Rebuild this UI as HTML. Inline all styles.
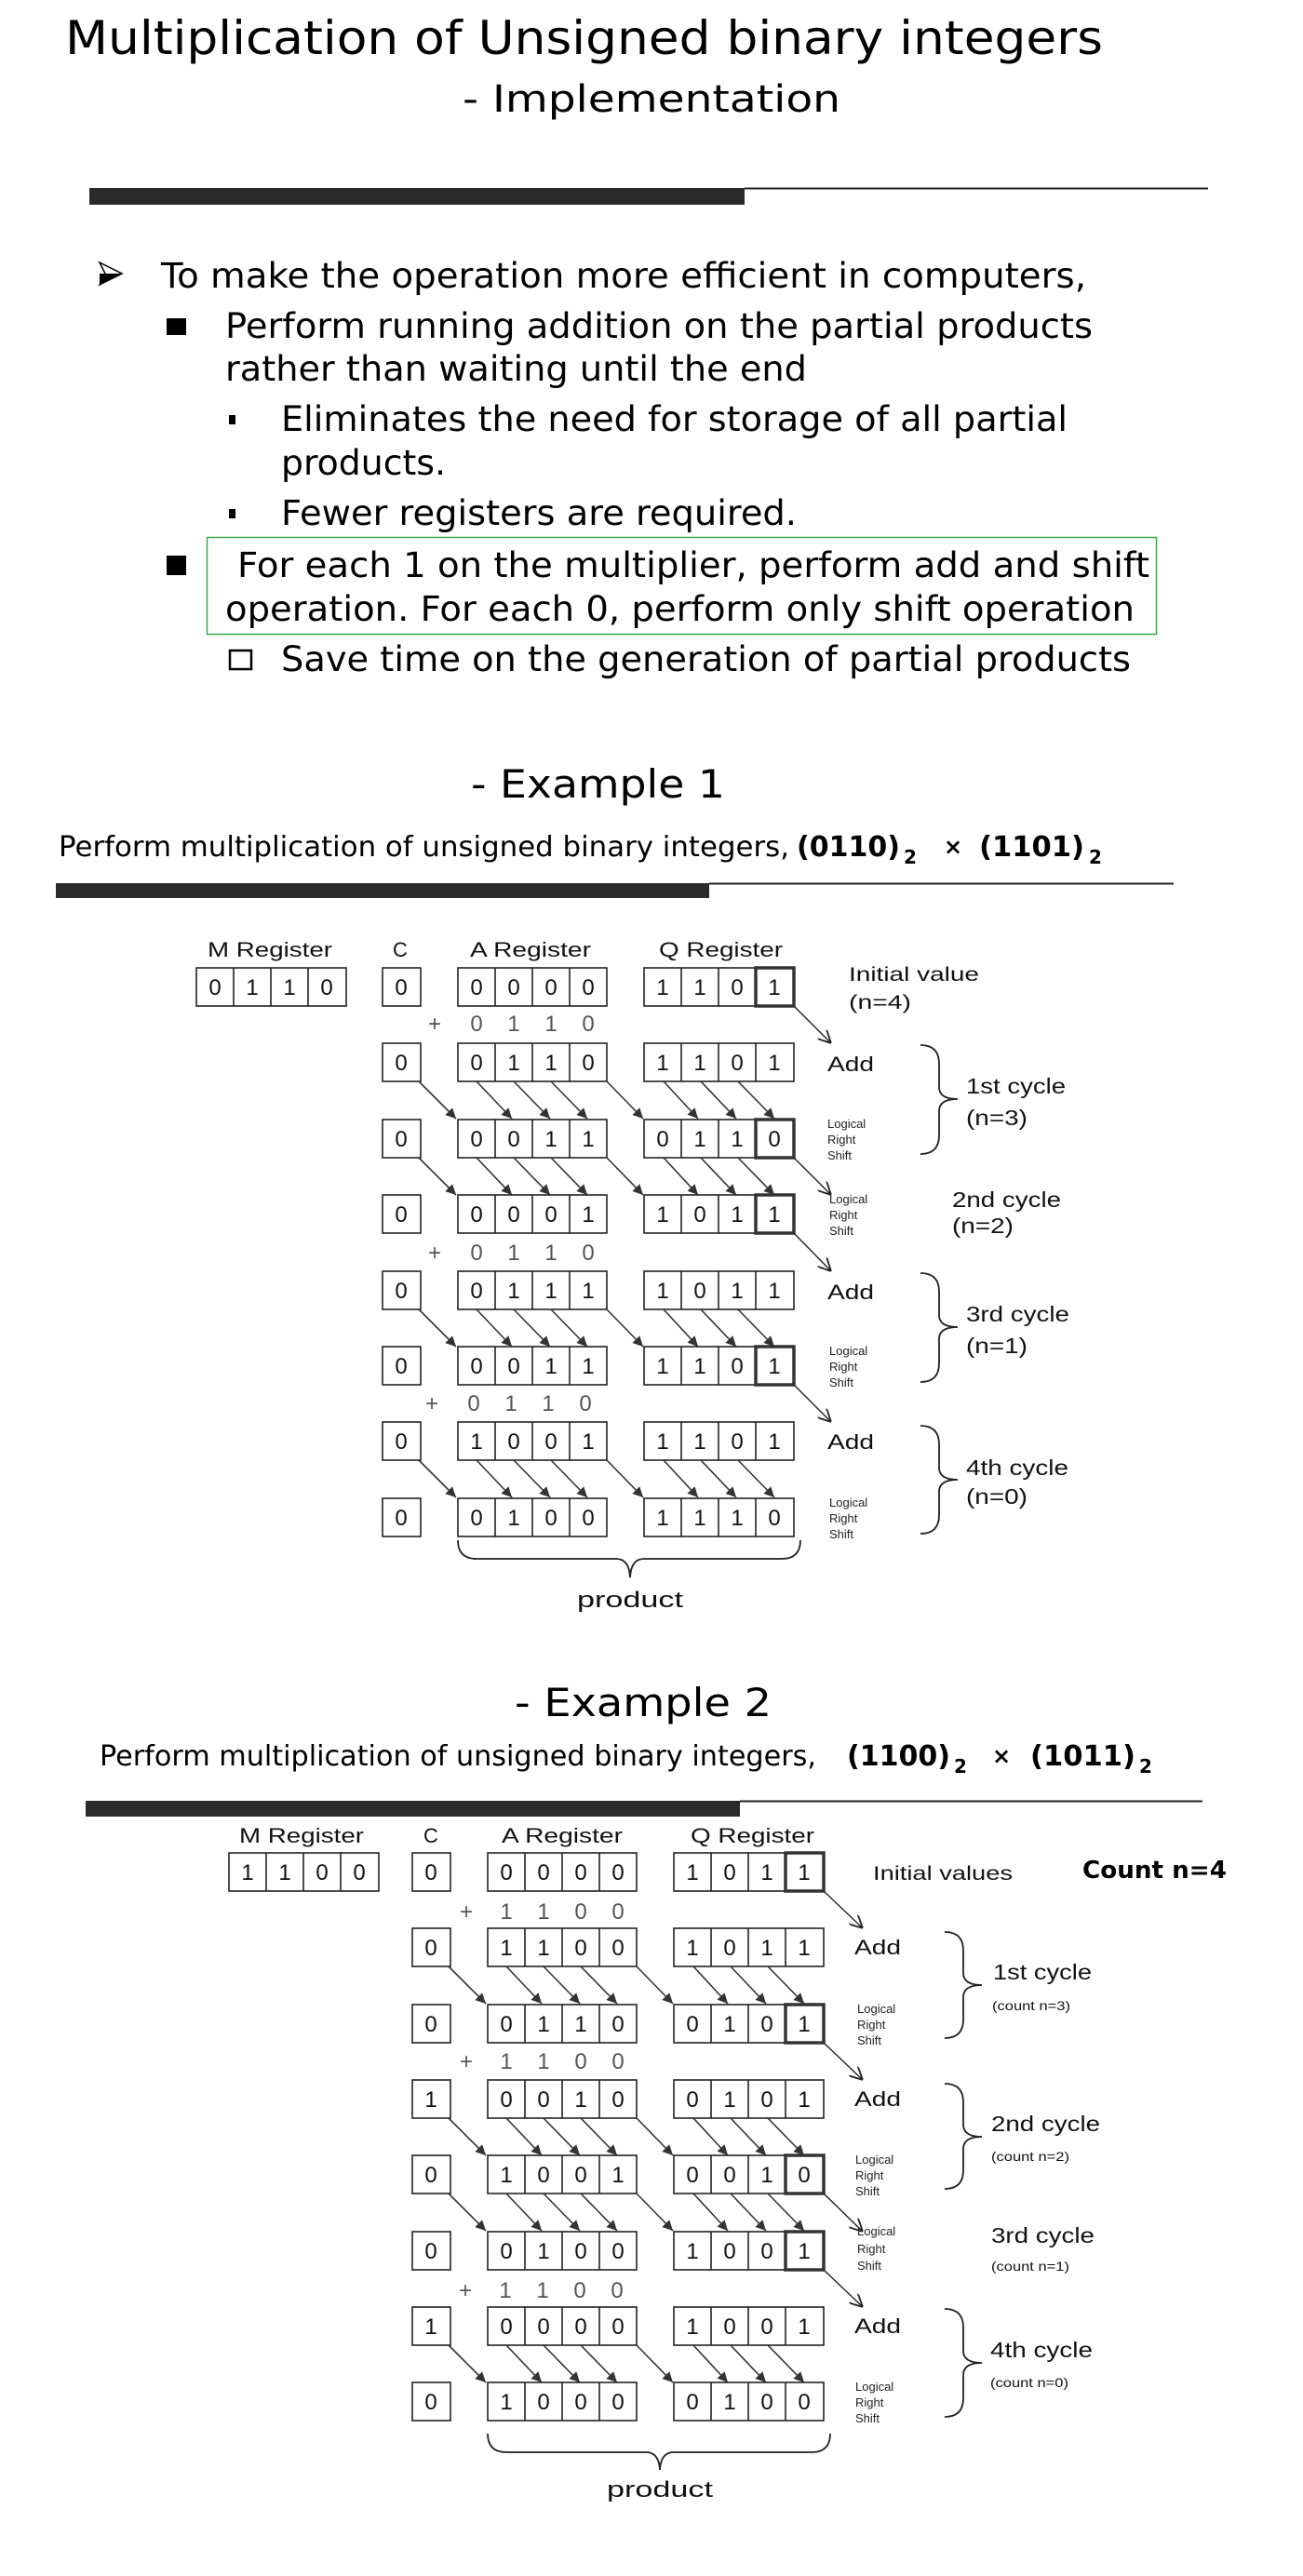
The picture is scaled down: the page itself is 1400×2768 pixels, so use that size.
<!DOCTYPE html>
<html><head><meta charset="utf-8"><style>
body{margin:0;background:#fff}
svg{display:block}
.v{font-family:"DejaVu Sans","Liberation Sans",sans-serif;fill:#000}
.a{font-family:"Liberation Sans",Arial,sans-serif;fill:#111}
.d{font-family:"Liberation Sans",Arial,sans-serif;font-size:24px;fill:#111;text-anchor:middle}
.p{font-family:"Liberation Sans",Arial,sans-serif;font-size:24px;fill:#555;text-anchor:middle}
.s{font-family:"Liberation Sans",Arial,sans-serif;font-size:13px;fill:#222}
</style></head><body>
<svg width="1400" height="2768" viewBox="0 0 1400 2768" xmlns="http://www.w3.org/2000/svg">
<defs>
<marker id="fa" viewBox="0 0 10 10" refX="10" refY="5" markerWidth="13" markerHeight="11" markerUnits="userSpaceOnUse" orient="auto"><path d="M0,0 L10,5 L0,10 z" fill="#333"/></marker>
<marker id="oa" viewBox="0 0 10 10" refX="10" refY="5" markerWidth="14" markerHeight="14" markerUnits="userSpaceOnUse" orient="auto"><path d="M0,0 L10,5 L0,10" fill="none" stroke="#222" stroke-width="1.3"/></marker>
<g id="regs" fill="none" stroke="#222" stroke-width="1.6">
<rect x="411" y="0" width="41" height="41"/>
<rect x="492" y="0" width="160" height="41"/><path d="M532 0v41M572 0v41M612 0v41"/>
<rect x="692" y="0" width="161" height="41"/><path d="M732 0v41M772 0v41M812 0v41"/>
</g>
<rect id="thk" x="812" y="0" width="41" height="41" fill="none" stroke="#333" stroke-width="3.5"/>
<g id="sh" stroke="#333" stroke-width="1.6" marker-end="url(#fa)">
<line x1="450" y1="41" x2="490" y2="81"/><line x1="512" y1="41" x2="550" y2="81"/>
<line x1="552" y1="41" x2="591" y2="81"/><line x1="592" y1="41" x2="631" y2="81"/>
<line x1="652" y1="41" x2="691" y2="81"/><line x1="713" y1="41" x2="750" y2="81"/>
<line x1="753" y1="41" x2="791" y2="81"/><line x1="793" y1="41" x2="832" y2="81"/>
</g>
</defs>
<rect width="1400" height="2768" fill="#fff"/>

<!-- Header -->
<text class="v" x="70" y="58" font-size="50" textLength="1115" lengthAdjust="spacingAndGlyphs">Multiplication of Unsigned binary integers</text>
<text class="v" x="497" y="120" font-size="40" textLength="406" lengthAdjust="spacingAndGlyphs">- Implementation</text>
<rect x="96" y="202" width="704" height="18" fill="#2a2a2a"/>
<line x1="800" y1="202.5" x2="1298" y2="202.5" stroke="#222" stroke-width="2"/>

<path d="M107 282 L131 294 L107 306 L113 294 Z" fill="#fff" stroke="#000" stroke-width="1.5"/>
<path d="M107 294 L131 294 L107 306 Z" fill="#000"/>
<text class="v" x="173" y="309" font-size="37" textLength="994" lengthAdjust="spacingAndGlyphs">To make the operation more efficient in computers,</text>
<rect x="179" y="342" width="21" height="18" fill="#000"/>
<text class="v" x="242" y="363" font-size="37" textLength="932" lengthAdjust="spacingAndGlyphs">Perform running addition on the partial products</text>
<text class="v" x="242" y="409" font-size="37" textLength="625" lengthAdjust="spacingAndGlyphs">rather than waiting until the end</text>
<rect x="246" y="446" width="7" height="10" fill="#000"/>
<text class="v" x="302" y="463" font-size="37" textLength="845" lengthAdjust="spacingAndGlyphs">Eliminates the need for storage of all partial</text>
<text class="v" x="302" y="510" font-size="37" textLength="177" lengthAdjust="spacingAndGlyphs">products.</text>
<rect x="246" y="547" width="7" height="10" fill="#000"/>
<text class="v" x="302" y="564" font-size="37" textLength="554" lengthAdjust="spacingAndGlyphs">Fewer registers are required.</text>
<rect x="222.5" y="577.5" width="1020" height="104" fill="none" stroke="#3aaa4a" stroke-width="1.5"/>
<rect x="179" y="597" width="21" height="21" fill="#000"/>
<text class="v" x="255" y="620" font-size="37" textLength="980" lengthAdjust="spacingAndGlyphs">For each 1 on the multiplier, perform add and shift</text>
<text class="v" x="242" y="667" font-size="37" textLength="977" lengthAdjust="spacingAndGlyphs">operation. For each 0, perform only shift operation</text>
<rect x="247" y="699" width="23" height="20" fill="none" stroke="#000" stroke-width="2.5"/>
<text class="v" x="302" y="721" font-size="37" textLength="913" lengthAdjust="spacingAndGlyphs">Save time on the generation of partial products</text>

<!-- Example 1 -->
<text class="v" x="506" y="857" font-size="42" textLength="273" lengthAdjust="spacingAndGlyphs">- Example 1</text>
<text class="v" x="63" y="920" font-size="30" textLength="785" lengthAdjust="spacingAndGlyphs">Perform multiplication of unsigned binary integers,</text>
<text class="v" x="856" y="920" font-size="30" font-weight="bold" textLength="111" lengthAdjust="spacingAndGlyphs">(0110)</text>
<text class="v" x="971" y="928" font-size="20" font-weight="bold">2</text>
<text class="v" x="1014" y="918" font-size="24" font-weight="bold">×</text>
<text class="v" x="1052" y="920" font-size="30" font-weight="bold" textLength="113" lengthAdjust="spacingAndGlyphs">(1101)</text>
<text class="v" x="1170" y="928" font-size="20" font-weight="bold">2</text>
<rect x="60" y="949" width="702" height="16" fill="#2a2a2a"/>
<line x1="762" y1="949.5" x2="1261" y2="949.5" stroke="#222" stroke-width="2"/>

<g>
<text class="a" x="223" y="1028" font-size="22" textLength="134" lengthAdjust="spacingAndGlyphs">M Register</text>
<text class="a" x="430" y="1028" font-size="22" text-anchor="middle">C</text>
<text class="a" x="505" y="1028" font-size="22" textLength="130" lengthAdjust="spacingAndGlyphs">A Register</text>
<text class="a" x="708" y="1028" font-size="22" textLength="133" lengthAdjust="spacingAndGlyphs">Q Register</text>
<g transform="translate(0,1040)">
<rect x="211" y="0" width="161" height="41" fill="none" stroke="#222" stroke-width="1.6"/><path d="M251 0v41M291 0v41M331 0v41" stroke="#222" stroke-width="1.6"/>
<text class="d" x="231" y="29">0</text><text class="d" x="271" y="29">1</text><text class="d" x="311" y="29">1</text><text class="d" x="351" y="29">0</text>
<use href="#regs"/><use href="#thk"/>
<text class="d" x="431" y="29">0</text><text class="d" x="512" y="29">0</text><text class="d" x="552" y="29">0</text><text class="d" x="592" y="29">0</text><text class="d" x="632" y="29">0</text>
<text class="d" x="712" y="29">1</text><text class="d" x="752" y="29">1</text><text class="d" x="792" y="29">0</text><text class="d" x="832" y="29">1</text>
</g>
<g><text class="p" x="467" y="1108">+</text><text class="p" x="512" y="1108">0</text><text class="p" x="552" y="1108">1</text><text class="p" x="592" y="1108">1</text><text class="p" x="632" y="1108">0</text></g>
<g transform="translate(0,1121)"><use href="#regs"/><use href="#sh"/>
<text class="d" x="431" y="29">0</text><text class="d" x="512" y="29">0</text><text class="d" x="552" y="29">1</text><text class="d" x="592" y="29">1</text><text class="d" x="632" y="29">0</text>
<text class="d" x="712" y="29">1</text><text class="d" x="752" y="29">1</text><text class="d" x="792" y="29">0</text><text class="d" x="832" y="29">1</text></g>
<g transform="translate(0,1203)"><use href="#regs"/><use href="#thk"/><use href="#sh"/>
<text class="d" x="431" y="29">0</text><text class="d" x="512" y="29">0</text><text class="d" x="552" y="29">0</text><text class="d" x="592" y="29">1</text><text class="d" x="632" y="29">1</text>
<text class="d" x="712" y="29">0</text><text class="d" x="752" y="29">1</text><text class="d" x="792" y="29">1</text><text class="d" x="832" y="29">0</text></g>
<g transform="translate(0,1284)"><use href="#regs"/><use href="#thk"/>
<text class="d" x="431" y="29">0</text><text class="d" x="512" y="29">0</text><text class="d" x="552" y="29">0</text><text class="d" x="592" y="29">0</text><text class="d" x="632" y="29">1</text>
<text class="d" x="712" y="29">1</text><text class="d" x="752" y="29">0</text><text class="d" x="792" y="29">1</text><text class="d" x="832" y="29">1</text></g>
<g><text class="p" x="467" y="1354">+</text><text class="p" x="512" y="1354">0</text><text class="p" x="552" y="1354">1</text><text class="p" x="592" y="1354">1</text><text class="p" x="632" y="1354">0</text></g>
<g transform="translate(0,1366)"><use href="#regs"/><use href="#sh"/>
<text class="d" x="431" y="29">0</text><text class="d" x="512" y="29">0</text><text class="d" x="552" y="29">1</text><text class="d" x="592" y="29">1</text><text class="d" x="632" y="29">1</text>
<text class="d" x="712" y="29">1</text><text class="d" x="752" y="29">0</text><text class="d" x="792" y="29">1</text><text class="d" x="832" y="29">1</text></g>
<g transform="translate(0,1447)"><use href="#regs"/><use href="#thk"/>
<text class="d" x="431" y="29">0</text><text class="d" x="512" y="29">0</text><text class="d" x="552" y="29">0</text><text class="d" x="592" y="29">1</text><text class="d" x="632" y="29">1</text>
<text class="d" x="712" y="29">1</text><text class="d" x="752" y="29">1</text><text class="d" x="792" y="29">0</text><text class="d" x="832" y="29">1</text></g>
<g><text class="p" x="464" y="1516">+</text><text class="p" x="509" y="1516">0</text><text class="p" x="549" y="1516">1</text><text class="p" x="589" y="1516">1</text><text class="p" x="629" y="1516">0</text></g>
<g transform="translate(0,1528)"><use href="#regs"/><use href="#sh"/>
<text class="d" x="431" y="29">0</text><text class="d" x="512" y="29">1</text><text class="d" x="552" y="29">0</text><text class="d" x="592" y="29">0</text><text class="d" x="632" y="29">1</text>
<text class="d" x="712" y="29">1</text><text class="d" x="752" y="29">1</text><text class="d" x="792" y="29">0</text><text class="d" x="832" y="29">1</text></g>
<g transform="translate(0,1610)"><use href="#regs"/>
<text class="d" x="431" y="29">0</text><text class="d" x="512" y="29">0</text><text class="d" x="552" y="29">1</text><text class="d" x="592" y="29">0</text><text class="d" x="632" y="29">0</text>
<text class="d" x="712" y="29">1</text><text class="d" x="752" y="29">1</text><text class="d" x="792" y="29">1</text><text class="d" x="832" y="29">0</text></g>

<g stroke="#222" stroke-width="1.4" marker-end="url(#oa)">
<line x1="853" y1="1081" x2="893" y2="1121"/>
<line x1="853" y1="1244" x2="893" y2="1284"/>
<line x1="853" y1="1325" x2="893" y2="1366"/>
<line x1="853" y1="1488" x2="893" y2="1528"/>
</g>
<text class="a" x="912" y="1054" font-size="21" textLength="140" lengthAdjust="spacingAndGlyphs">Initial value</text>
<text class="a" x="912" y="1084" font-size="21" textLength="67" lengthAdjust="spacingAndGlyphs">(n=4)</text>
<text class="a" x="889" y="1151" font-size="22" textLength="50" lengthAdjust="spacingAndGlyphs">Add</text>
<text class="a" x="889" y="1396" font-size="22" textLength="50" lengthAdjust="spacingAndGlyphs">Add</text>
<text class="a" x="889" y="1557" font-size="22" textLength="50" lengthAdjust="spacingAndGlyphs">Add</text>
<g class="s">
<text class="s" x="889" y="1212">Logical</text><text class="s" x="889" y="1229">Right</text><text class="s" x="889" y="1246">Shift</text>
<text class="s" x="891" y="1293">Logical</text><text class="s" x="891" y="1310">Right</text><text class="s" x="891" y="1327">Shift</text>
<text class="s" x="891" y="1456">Logical</text><text class="s" x="891" y="1473">Right</text><text class="s" x="891" y="1490">Shift</text>
<text class="s" x="891" y="1619">Logical</text><text class="s" x="891" y="1636">Right</text><text class="s" x="891" y="1653">Shift</text>
</g>
<g fill="none" stroke="#222" stroke-width="1.8">
<path d="M989 1123 Q1009 1123 1009 1143 L1009 1168 Q1009 1181 1029 1181 Q1009 1181 1009 1194 L1009 1220 Q1009 1240 989 1240"/>
<path d="M989 1368 Q1009 1368 1009 1388 L1009 1413 Q1009 1426 1029 1426 Q1009 1426 1009 1439 L1009 1465 Q1009 1485 989 1485"/>
<path d="M989 1532 Q1009 1532 1009 1552 L1009 1577 Q1009 1590 1029 1590 Q1009 1590 1009 1603 L1009 1628 Q1009 1648 989 1648"/>
<path d="M492 1655 Q492 1675 512 1675 L662 1675 Q676 1675 677 1695 Q678 1675 692 1675 L840 1675 Q860 1675 860 1655"/>
</g>
<text class="a" x="1038" y="1175" font-size="23" textLength="107" lengthAdjust="spacingAndGlyphs">1st cycle</text>
<text class="a" x="1038" y="1209" font-size="23" textLength="66" lengthAdjust="spacingAndGlyphs">(n=3)</text>
<text class="a" x="1023" y="1297" font-size="23" textLength="117" lengthAdjust="spacingAndGlyphs">2nd cycle</text>
<text class="a" x="1023" y="1325" font-size="23" textLength="66" lengthAdjust="spacingAndGlyphs">(n=2)</text>
<text class="a" x="1038" y="1420" font-size="23" textLength="111" lengthAdjust="spacingAndGlyphs">3rd cycle</text>
<text class="a" x="1038" y="1454" font-size="23" textLength="66" lengthAdjust="spacingAndGlyphs">(n=1)</text>
<text class="a" x="1038" y="1585" font-size="23" textLength="110" lengthAdjust="spacingAndGlyphs">4th cycle</text>
<text class="a" x="1038" y="1616" font-size="23" textLength="66" lengthAdjust="spacingAndGlyphs">(n=0)</text>
<text class="a" x="677" y="1727" font-size="24" text-anchor="middle" textLength="114" lengthAdjust="spacingAndGlyphs">product</text>
</g>

<!-- Example 2 -->
<text class="v" x="553" y="1844" font-size="42" textLength="276" lengthAdjust="spacingAndGlyphs">- Example 2</text>
<text class="v" x="107" y="1897" font-size="30" textLength="770" lengthAdjust="spacingAndGlyphs">Perform multiplication of unsigned binary integers,</text>
<text class="v" x="910" y="1897" font-size="30" font-weight="bold" textLength="111" lengthAdjust="spacingAndGlyphs">(1100)</text>
<text class="v" x="1025" y="1905" font-size="20" font-weight="bold">2</text>
<text class="v" x="1066" y="1895" font-size="24" font-weight="bold">×</text>
<text class="v" x="1107" y="1897" font-size="30" font-weight="bold" textLength="113" lengthAdjust="spacingAndGlyphs">(1011)</text>
<text class="v" x="1224" y="1905" font-size="20" font-weight="bold">2</text>
<rect x="92" y="1935" width="703" height="17" fill="#2a2a2a"/>
<line x1="795" y1="1935.5" x2="1292" y2="1935.5" stroke="#222" stroke-width="2"/>

<g transform="translate(32,0)">
<text class="a" x="225" y="1980" font-size="22" textLength="134" lengthAdjust="spacingAndGlyphs">M Register</text>
<text class="a" x="431" y="1980" font-size="22" text-anchor="middle">C</text>
<text class="a" x="507" y="1980" font-size="22" textLength="130" lengthAdjust="spacingAndGlyphs">A Register</text>
<text class="a" x="710" y="1980" font-size="22" textLength="133" lengthAdjust="spacingAndGlyphs">Q Register</text>
<g transform="translate(0,1991)">
<rect x="214" y="0" width="161" height="41" fill="none" stroke="#222" stroke-width="1.6"/><path d="M254 0v41M294 0v41M334 0v41" stroke="#222" stroke-width="1.6"/>
<text class="d" x="234" y="29">1</text><text class="d" x="274" y="29">1</text><text class="d" x="314" y="29">0</text><text class="d" x="354" y="29">0</text>
<use href="#regs"/><use href="#thk"/>
<text class="d" x="431" y="29">0</text><text class="d" x="512" y="29">0</text><text class="d" x="552" y="29">0</text><text class="d" x="592" y="29">0</text><text class="d" x="632" y="29">0</text>
<text class="d" x="712" y="29">1</text><text class="d" x="752" y="29">0</text><text class="d" x="792" y="29">1</text><text class="d" x="832" y="29">1</text>
</g>
<g><text class="p" x="469" y="2062">+</text><text class="p" x="512" y="2062">1</text><text class="p" x="552" y="2062">1</text><text class="p" x="592" y="2062">0</text><text class="p" x="632" y="2062">0</text></g>
<g transform="translate(0,2072)"><use href="#regs"/><use href="#sh"/>
<text class="d" x="431" y="29">0</text><text class="d" x="512" y="29">1</text><text class="d" x="552" y="29">1</text><text class="d" x="592" y="29">0</text><text class="d" x="632" y="29">0</text>
<text class="d" x="712" y="29">1</text><text class="d" x="752" y="29">0</text><text class="d" x="792" y="29">1</text><text class="d" x="832" y="29">1</text></g>
<g transform="translate(0,2154)"><use href="#regs"/><use href="#thk"/>
<text class="d" x="431" y="29">0</text><text class="d" x="512" y="29">0</text><text class="d" x="552" y="29">1</text><text class="d" x="592" y="29">1</text><text class="d" x="632" y="29">0</text>
<text class="d" x="712" y="29">0</text><text class="d" x="752" y="29">1</text><text class="d" x="792" y="29">0</text><text class="d" x="832" y="29">1</text></g>
<g><text class="p" x="469" y="2223">+</text><text class="p" x="512" y="2223">1</text><text class="p" x="552" y="2223">1</text><text class="p" x="592" y="2223">0</text><text class="p" x="632" y="2223">0</text></g>
<g transform="translate(0,2235)"><use href="#regs"/><use href="#sh"/>
<text class="d" x="431" y="29">1</text><text class="d" x="512" y="29">0</text><text class="d" x="552" y="29">0</text><text class="d" x="592" y="29">1</text><text class="d" x="632" y="29">0</text>
<text class="d" x="712" y="29">0</text><text class="d" x="752" y="29">1</text><text class="d" x="792" y="29">0</text><text class="d" x="832" y="29">1</text></g>
<g transform="translate(0,2316)"><use href="#regs"/><use href="#thk"/><use href="#sh"/>
<text class="d" x="431" y="29">0</text><text class="d" x="512" y="29">1</text><text class="d" x="552" y="29">0</text><text class="d" x="592" y="29">0</text><text class="d" x="632" y="29">1</text>
<text class="d" x="712" y="29">0</text><text class="d" x="752" y="29">0</text><text class="d" x="792" y="29">1</text><text class="d" x="832" y="29">0</text></g>
<g transform="translate(0,2398)"><use href="#regs"/><use href="#thk"/>
<text class="d" x="431" y="29">0</text><text class="d" x="512" y="29">0</text><text class="d" x="552" y="29">1</text><text class="d" x="592" y="29">0</text><text class="d" x="632" y="29">0</text>
<text class="d" x="712" y="29">1</text><text class="d" x="752" y="29">0</text><text class="d" x="792" y="29">0</text><text class="d" x="832" y="29">1</text></g>
<g><text class="p" x="468" y="2469">+</text><text class="p" x="511" y="2469">1</text><text class="p" x="551" y="2469">1</text><text class="p" x="591" y="2469">0</text><text class="p" x="631" y="2469">0</text></g>
<g transform="translate(0,2479)"><use href="#regs"/><use href="#sh"/>
<text class="d" x="431" y="29">1</text><text class="d" x="512" y="29">0</text><text class="d" x="552" y="29">0</text><text class="d" x="592" y="29">0</text><text class="d" x="632" y="29">0</text>
<text class="d" x="712" y="29">1</text><text class="d" x="752" y="29">0</text><text class="d" x="792" y="29">0</text><text class="d" x="832" y="29">1</text></g>
<g transform="translate(0,2560)"><use href="#regs"/>
<text class="d" x="431" y="29">0</text><text class="d" x="512" y="29">1</text><text class="d" x="552" y="29">0</text><text class="d" x="592" y="29">0</text><text class="d" x="632" y="29">0</text>
<text class="d" x="712" y="29">0</text><text class="d" x="752" y="29">1</text><text class="d" x="792" y="29">0</text><text class="d" x="832" y="29">0</text></g>
<g stroke="#222" stroke-width="1.4" marker-end="url(#oa)">
<line x1="853" y1="2032" x2="895" y2="2072"/>
<line x1="853" y1="2195" x2="895" y2="2235"/>
<line x1="853" y1="2357" x2="895" y2="2398"/>
<line x1="853" y1="2439" x2="895" y2="2479"/>
</g>
<path d="M492 2615 Q492 2635 512 2635 L662 2635 Q676 2635 677 2654 Q678 2635 692 2635 L840 2635 Q860 2635 860 2615" fill="none" stroke="#222" stroke-width="1.8"/>
<text class="a" x="677" y="2683" font-size="24" text-anchor="middle" textLength="114" lengthAdjust="spacingAndGlyphs">product</text>
</g>

<text class="a" x="938" y="2020" font-size="21" textLength="150" lengthAdjust="spacingAndGlyphs">Initial values</text>
<text class="v" x="1163" y="2018" font-size="26" font-weight="bold" textLength="155" lengthAdjust="spacingAndGlyphs">Count n=4</text>
<text class="a" x="918" y="2100" font-size="22" textLength="50" lengthAdjust="spacingAndGlyphs">Add</text>
<text class="a" x="918" y="2263" font-size="22" textLength="50" lengthAdjust="spacingAndGlyphs">Add</text>
<text class="a" x="918" y="2507" font-size="22" textLength="50" lengthAdjust="spacingAndGlyphs">Add</text>
<g>
<text class="s" x="921" y="2163">Logical</text><text class="s" x="921" y="2180">Right</text><text class="s" x="921" y="2197">Shift</text>
<text class="s" x="919" y="2325">Logical</text><text class="s" x="919" y="2342">Right</text><text class="s" x="919" y="2359">Shift</text>
<text class="s" x="921" y="2402">Logical</text><text class="s" x="921" y="2421">Right</text><text class="s" x="921" y="2439">Shift</text>
<text class="s" x="919" y="2569">Logical</text><text class="s" x="919" y="2586">Right</text><text class="s" x="919" y="2603">Shift</text>
</g>
<g fill="none" stroke="#222" stroke-width="1.8">
<path d="M1015 2076 Q1035 2076 1035 2096 L1035 2120 Q1035 2133 1055 2133 Q1035 2133 1035 2146 L1035 2170 Q1035 2190 1015 2190"/>
<path d="M1015 2239 Q1035 2239 1035 2259 L1035 2283 Q1035 2296 1055 2296 Q1035 2296 1035 2309 L1035 2332 Q1035 2352 1015 2352"/>
<path d="M1015 2481 Q1035 2481 1035 2501 L1035 2526 Q1035 2539 1055 2539 Q1035 2539 1035 2552 L1035 2577 Q1035 2597 1015 2597"/>
</g>
<text class="a" x="1067" y="2127" font-size="23" textLength="106" lengthAdjust="spacingAndGlyphs">1st cycle</text>
<text class="a" x="1066" y="2160" font-size="14" textLength="84" lengthAdjust="spacingAndGlyphs">(count n=3)</text>
<text class="a" x="1065" y="2290" font-size="23" textLength="117" lengthAdjust="spacingAndGlyphs">2nd cycle</text>
<text class="a" x="1065" y="2322" font-size="14" textLength="84" lengthAdjust="spacingAndGlyphs">(count n=2)</text>
<text class="a" x="1065" y="2410" font-size="23" textLength="111" lengthAdjust="spacingAndGlyphs">3rd cycle</text>
<text class="a" x="1065" y="2440" font-size="14" textLength="84" lengthAdjust="spacingAndGlyphs">(count n=1)</text>
<text class="a" x="1064" y="2533" font-size="23" textLength="110" lengthAdjust="spacingAndGlyphs">4th cycle</text>
<text class="a" x="1064" y="2565" font-size="14" textLength="84" lengthAdjust="spacingAndGlyphs">(count n=0)</text>
</svg>
</body></html>
